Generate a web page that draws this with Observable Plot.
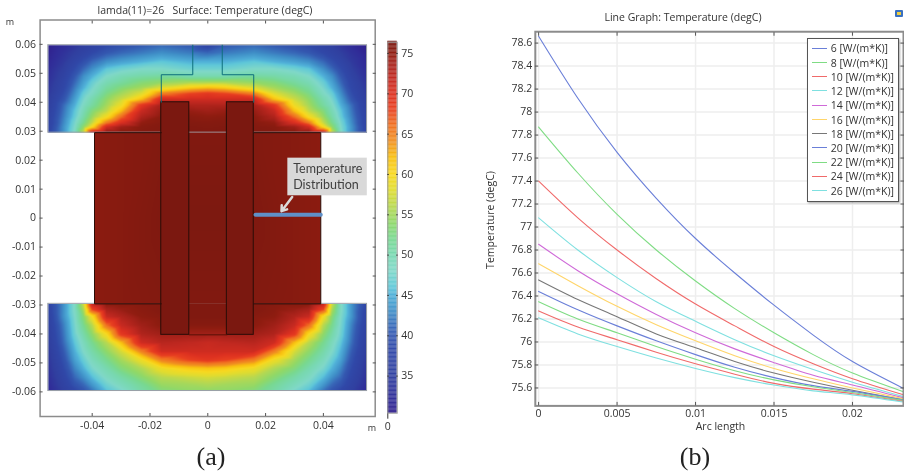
<!DOCTYPE html>
<html>
<head>
<meta charset="utf-8">
<script src="https://cdn.jsdelivr.net/npm/d3@7"></script>
<script src="https://cdn.jsdelivr.net/npm/@observablehq/plot@0.6"></script>
<style>
html,body{margin:0;padding:0;background:#fff;}
#page{position:relative;width:904px;height:475px;overflow:hidden;background:#fff;font-family:"Open Sans",sans-serif;color:#333;filter:blur(0.35px);}
#page svg{position:absolute;left:0;top:0;background:none;}
.lbl{position:absolute;white-space:pre;line-height:1;}
</style>
</head>
<body>
<div id="page"></div>
<script>
// ---- colour scale
const colorStops = [30.4,32,35,38,40,41,43,45,46,48,50,52,54,56,58,60,62,64,66,68,70,72,74,75,76.4];
const colorRange = ["#30208c","#302c98","#3040a0","#3048a8","#3458b0","#3868b8","#4090c8","#50b0d8","#60c8d8","#80d8c8","#78d8b0","#78d890","#90d868","#b8d850","#e0dc30","#f8d820","#f8c010","#f09020","#f07020","#e84020","#dc3020","#c02820","#a02018","#8e1c10","#7a1810"];
const colorTicks = [35,40,45,50,55,60,65,70,75];

// ---- temperature field (|x|, y)
const fieldCols = [0,0.006,0.016,0.023,0.03,0.035,0.04,0.043,0.046,0.05,0.0552];
const topRows = [0.0597,0.057,0.054,0.0515,0.049,0.047,0.045,0.043,0.041,0.039,0.037,0.035,0.033,0.0315,0.0295];
const topGrid = [
 [37,40,41,40,39,38,36,35,33.5,32,30.5],
 [41,42,43,42,41,40,38,36.5,35,33,31],
 [45,45,46,45,44,43,41,39,37,34,31.5],
 [47,47,48,48,47,46,43,41,38.5,35,32],
 [50,50,51,50.5,49.5,48,45,43,40,36,32.5],
 [55,55,54,53,51,49.5,46.5,44,41,37,33],
 [62,61,58,55,53,51,47.5,45,42,37.5,33.5],
 [69,68,65,58,55,52.5,48.5,46.5,43,38.5,34],
 [71,71,71,62,57,54,50,47.5,44,39.5,34.5],
 [73,73,73.5,69,59,55,51,48.5,45,41,35],
 [74,74.5,74.5,71.5,62,56.5,53,49.5,46,41.5,35.5],
 [75,75.3,75.2,73,66,59.5,54.5,50.5,46.5,42,36],
 [75.6,75.7,75.5,74.7,70,65,56.5,52,47.5,42.5,36],
 [75.8,75.9,75.7,75.4,74,71,60,54,48,43,36.5],
 [76,76,75.8,75.6,75.5,75.3,72,57,48.5,43,37]
];
const bottomRows = [-0.0296,-0.0315,-0.034,-0.037,-0.04,-0.043,-0.046,-0.049,-0.052,-0.055,-0.0575,-0.0597];
const bottomGrid = [
 [76,76,75.8,75.6,75.5,75.3,72,57,48.5,43,37],
 [76,76,75.8,75.3,74.5,73.5,68,55.5,48.5,43,36.5],
 [76,76,75.5,75,73,71.5,59.5,53.5,48,43,36],
 [75.5,75.5,75.2,74,71.5,66,56,52,47.5,42,35.5],
 [74,74,74,73,69,60,54,50.5,47,41.5,35],
 [71.5,72,72.5,71,62,56,52,49,46,41,34.5],
 [71,71,71,65,57.5,54,50.5,48,45,40,34],
 [69,68,65,59,55,52,49,46.5,44,39,33.5],
 [61.5,61,59,55.5,53,50,47.5,45,42.5,38,33],
 [57.5,57,56,53.5,50.5,48.5,45.5,43,41,37,32.5],
 [55.5,55,54.5,51.5,49,47,43.5,41,39.5,36,32],
 [54,54,53,50.5,47.5,45.5,41.5,39.5,37.5,35,31.5]
];
const blockCols = [0,0.0064,0.0161,0.03,0.0391];
const blockRows = [0.0296,0,-0.0296];
const blockGrid = [
 [75.9,75.9,75.8,75.5,75.2],
 [76.2,76.2,76.0,75.5,75.2],
 [75.9,75.9,75.8,75.5,75.2]
];
const coilX1 = [-0.0161,0.0066];
const coilX2 = [-0.0064,0.0159];
const coilTop = 0.04, coilBottom = -0.0403, coilTemp = 76.3;

// ---- geometry outlines
const bandX = [-0.0552,0.0551];
const topBandY = [0.0295,0.0597];
const bottomBandY = [-0.0597,-0.0296];
const neckLeftX = [-0.0161,-0.0161,-0.0052,-0.0052];
const neckRightX = [0.0159,0.0159,0.005,0.005];
const neckY = [0.04,0.0495,0.0495,0.0597];
const blockLeftX = [-0.0161,-0.0392,-0.0392,-0.0161];
const blockRightX = [0.0159,0.0391,0.0391,0.0159];
const blockY = [0.0295,0.0295,-0.0296,-0.0296];
const probeX = [0.0165,0.0391], probeY = 0.0012;
const calloutX = [0.0277,0.0552], calloutY = [0.0077,0.0207];
const calloutText = ["Temperature","Distribution"];
const calloutTextX = 0.02955, calloutTextY = [0.0168,0.0113];
const arrowFrom = [0.0292,0.00725], arrowTo = [0.0255,0.0024];

// ---- axes, left panel
const leftXTicks = [-0.04,-0.02,0,0.02,0.04];
const leftYTicks = [0.06,0.05,0.04,0.03,0.02,0.01,0,-0.01,-0.02,-0.03,-0.04,-0.05,-0.06];

// ---- line graph
const arcLength = [0,0.0025,0.005,0.0075,0.01,0.0125,0.015,0.0175,0.02,0.0232];
const k6  = [78.66,78.12,77.65,77.25,76.90,76.60,76.32,76.06,75.83,75.60];
const k8  = [77.87,77.47,77.11,76.80,76.53,76.29,76.08,75.89,75.73,75.57];
const k10 = [77.40,77.08,76.80,76.55,76.33,76.14,75.96,75.81,75.68,75.542];
const k12 = [77.08,76.80,76.56,76.35,76.18,76.02,75.88,75.76,75.65,75.527];
const k14 = [76.85,76.62,76.42,76.24,76.08,75.94,75.82,75.71,75.626,75.516];
const k16 = [76.68,76.49,76.31,76.15,76.01,75.88,75.77,75.68,75.60,75.507];
const k18 = [76.54,76.37,76.22,76.07,75.95,75.83,75.73,75.65,75.58,75.498];
const k20 = [76.44,76.28,76.14,76.01,75.89,75.78,75.69,75.62,75.57,75.496];
const k22 = [76.35,76.20,76.08,75.96,75.85,75.75,75.67,75.61,75.56,75.492];
const k24 = [76.27,76.13,76.02,75.91,75.81,75.72,75.64,75.59,75.55,75.484];
const k26 = [76.21,76.07,75.96,75.86,75.77,75.69,75.625,75.575,75.54,75.478];
const seriesValues = [k6,k8,k10,k12,k14,k16,k18,k20,k22,k24,k26];
const seriesNames = ["6 [W/(m*K)]","8 [W/(m*K)]","10 [W/(m*K)]","12 [W/(m*K)]","14 [W/(m*K)]","16 [W/(m*K)]","18 [W/(m*K)]","20 [W/(m*K)]","22 [W/(m*K)]","24 [W/(m*K)]","26 [W/(m*K)]"];
const seriesColors = ["#6a7fd8","#7fdc84","#f06a6a","#7fe0e0","#cf6ad8","#ffd56a","#777777","#6a7fd8","#7fdc84","#f06a6a","#7fe0e0"];
const rightXTicks = [0,0.005,0.01,0.015,0.02];
const rightYTicks = [78.6,78.4,78.2,78,77.8,77.6,77.4,77.2,77,76.8,76.6,76.4,76.2,76,75.8,75.6];

const page = document.getElementById("page");
const fontStyle = {fontFamily:"'Open Sans',sans-serif",fontSize:"10.5px",color:"#333",background:"none",overflow:"visible"};
const colorScale = {type:"linear",domain:colorStops,range:colorRange,clamp:true};
const fmt = d => String(d);

function mirrored(cols,rows,grid){
  const out=[];
  rows.forEach((y,r)=>cols.forEach((x,c)=>{
    out.push({x,y,t:grid[r][c]});
    if(x!==0) out.push({x:-x,y,t:grid[r][c]});
  }));
  return out;
}
function path(xs,ys){return xs.map((x,i)=>({x,y:ys[i]}));}
function label(text,x,y,style={},transform="translate(-50%,-50%)"){
  const d=document.createElement("div");
  d.className="lbl";d.textContent=text;
  d.style.left=x+"px";d.style.top=y+"px";d.style.transform=transform;
  d.style.fontSize="10.5px";
  Object.assign(d.style,style);
  page.appendChild(d);
  return d;
}
const tick = {tickSize:-3,label:null,fill:"none",stroke:"#555"};
const text = {tickSize:0,label:null,fill:"#333",stroke:"none"};

// ---- left panel
const leftPlot = Plot.plot({
  width:380,height:440,
  marginLeft:39.6,marginRight:5.3,marginTop:19.5,marginBottom:24,
  style:fontStyle,
  x:{domain:[-0.05803,0.05793]},
  y:{domain:[-0.0685,0.0684]},
  color:colorScale,
  marks:[
    Plot.raster(mirrored(fieldCols,topRows,topGrid),{x:"x",y:"y",fill:"t",interpolate:"barycentric",x1:bandX[0],x2:bandX[1],y1:topBandY[0],y2:topBandY[1],pixelSize:1}),
    Plot.raster(mirrored(fieldCols,bottomRows,bottomGrid),{x:"x",y:"y",fill:"t",interpolate:"barycentric",x1:bandX[0],x2:bandX[1],y1:bottomBandY[0],y2:bottomBandY[1],pixelSize:1}),
    Plot.rect([0],{x1:bandX[0],x2:bandX[1],y1:topBandY[0],y2:topBandY[1],stroke:"#9aa0a8",strokeWidth:1,fill:"none"}),
    Plot.rect([0],{x1:bandX[0],x2:bandX[1],y1:bottomBandY[0],y2:bottomBandY[1],stroke:"#9aa0a8",strokeWidth:1,fill:"none"}),
    Plot.raster(mirrored(blockCols,blockRows,blockGrid),{x:"x",y:"y",fill:"t",interpolate:"barycentric",x1:blockLeftX[1],x2:blockRightX[1],y1:blockY[2],y2:blockY[0],pixelSize:1}),
    Plot.rect(coilX1.map((x,i)=>({x1:x,x2:coilX2[i],t:coilTemp})),{x1:"x1",x2:"x2",y1:coilBottom,y2:coilTop,fill:"t",stroke:"#2a0d08",strokeWidth:1}),
    Plot.line(path(neckLeftX,neckY),{x:"x",y:"y",stroke:"#0d6f7c",strokeWidth:1}),
    Plot.line(path(neckRightX,neckY),{x:"x",y:"y",stroke:"#0d6f7c",strokeWidth:1}),
    Plot.line(path(blockLeftX,blockY),{x:"x",y:"y",stroke:"#2a0d08",strokeWidth:1}),
    Plot.line(path(blockRightX,blockY),{x:"x",y:"y",stroke:"#2a0d08",strokeWidth:1}),
    Plot.line(path([coilX2[0],coilX1[1]],[coilBottom,coilBottom]),{x:"x",y:"y",stroke:"#5a1008",strokeWidth:1}),
    Plot.line(path(probeX,[probeY,probeY]),{x:"x",y:"y",stroke:"#5f90c8",strokeWidth:4}),
    Plot.rect([0],{x1:calloutX[0],x2:calloutX[1],y1:calloutY[0],y2:calloutY[1],fill:"#d9d9d9"}),
    Plot.text(calloutText.map((t,i)=>({t,y:calloutTextY[i]})),{x:calloutTextX,y:"y",text:"t",textAnchor:"start",fontFamily:"Lato",fontSize:12.5,fill:"#404040"}),
    Plot.arrow([0],{x1:arrowFrom[0],y1:arrowFrom[1],x2:arrowTo[0],y2:arrowTo[1],stroke:"#dadada",strokeWidth:2.5,headLength:9,headAngle:70}),
    Plot.frame({stroke:"#8c8c8c",strokeWidth:1.5}),
    Plot.axisX(leftXTicks,{anchor:"bottom",...tick}),
    Plot.axisX(leftXTicks,{anchor:"top",...tick}),
    Plot.axisY(leftYTicks,{anchor:"left",...tick}),
    Plot.axisY(leftYTicks,{anchor:"right",...tick}),
    Plot.axisX(leftXTicks,{anchor:"bottom",tickPadding:5,tickFormat:fmt,...text}),
    Plot.axisY(leftYTicks,{anchor:"left",tickPadding:4,tickFormat:fmt,...text})
  ]
});
page.appendChild(leftPlot);

// ---- colour bar
const barValues = d3.range(colorStops[0],76.4,0.1);
const barPlot = Plot.plot({
  width:420,height:430,
  marginLeft:387.3,marginRight:23.3,marginTop:41.7,marginBottom:17.3,
  style:fontStyle,
  x:{domain:[0,1]},
  y:{domain:[30.4,76.4]},
  color:colorScale,
  marks:[
    Plot.rect(barValues,{x1:0,x2:1,y1:d=>d,y2:d=>d+0.12,fill:d=>d}),
    Plot.frame({stroke:"#999",strokeWidth:1}),
    Plot.axisY(colorTicks,{anchor:"left",...tick,tickSize:-1.5,stroke:"#333"}),
    Plot.axisY(colorTicks,{anchor:"right",...tick,tickSize:-1.5,stroke:"#333"}),
    Plot.axisY(colorTicks,{anchor:"right",tickPadding:4,tickFormat:fmt,...text})
  ]
});
page.appendChild(barPlot);

// ---- line graph
const lineRows = seriesValues.flatMap((vals,s)=>vals.map((t,i)=>({a:arcLength[i],t,name:seriesNames[s],s})));
const rightPlot = Plot.plot({
  width:906,height:440,
  marginLeft:536,marginRight:1,marginTop:31.3,marginBottom:33.7,
  style:fontStyle,
  x:{domain:[-0.00021,0.02325]},
  y:{domain:[75.444,78.699]},
  color:{type:"ordinal",domain:d3.range(seriesNames.length),range:seriesColors},
  marks:[
    Plot.gridX(rightXTicks,{stroke:"#eeeeee",strokeOpacity:1,strokeWidth:1.5}),
    Plot.gridY(rightYTicks,{stroke:"#eeeeee",strokeOpacity:1,strokeWidth:1.5}),
    Plot.line(lineRows,{x:"a",y:"t",z:"s",stroke:"s",strokeWidth:1.1,curve:"natural"}),
    Plot.frame({stroke:"#8c8c8c",strokeWidth:2}),
    Plot.axisX(rightXTicks,{anchor:"bottom",...tick,tickSize:-3.5}),
    Plot.axisX(rightXTicks,{anchor:"top",...tick,tickSize:-3.5}),
    Plot.axisY(rightYTicks,{anchor:"left",...tick,tickSize:-3.5}),
    Plot.axisY(rightYTicks,{anchor:"right",...tick,tickSize:-3.5}),
    Plot.axisX(rightXTicks,{anchor:"bottom",tickPadding:4,tickFormat:fmt,...text}),
    Plot.axisY(rightYTicks,{anchor:"left",tickPadding:3,tickFormat:fmt,...text})
  ]
});
page.appendChild(rightPlot);

// ---- titles and labels
label("lamda(11)=26   Surface: Temperature (degC)",205,10);
label("m",10,21,{fontSize:"9px"});
label("m",372,427,{fontSize:"9px"});
label("Line Graph: Temperature (degC)",683,17);
label("Temperature (degC)",490,220,{}, "translate(-50%,-50%) rotate(-90deg)");
label("Arc length",720.5,426);
label("(a)",211,456.5,{fontFamily:"'Liberation Serif',serif",fontSize:"26px",color:"#222"});
label("(b)",695,456.5,{fontFamily:"'Liberation Serif',serif",fontSize:"26px",color:"#222"});

// ---- small window icon
const icon=document.createElement("div");
Object.assign(icon.style,{position:"absolute",left:"895px",top:"10px",width:"4px",height:"3px",background:"#f0d040",border:"2px solid #3a70c0",borderRadius:"1px"});
page.appendChild(icon);

// ---- legend
const legend=document.createElement("div");
Object.assign(legend.style,{position:"absolute",left:"807px",top:"38px",width:"89.5px",height:"161.5px",background:"#fff",border:"1px solid #555",boxShadow:"1px 1px 2px rgba(0,0,0,0.35)"});
page.appendChild(legend);
seriesNames.forEach((name,i)=>{
  const y=48.3+i*14.24;
  const sw=document.createElement("div");
  Object.assign(sw.style,{position:"absolute",left:"812.3px",top:Math.round(y-0.7)+"px",width:"15px",height:"1.4px",background:seriesColors[i]});
  page.appendChild(sw);
  label(name,830.7,y,{},"translate(0,-50%)");
});
</script>
</body>
</html>
